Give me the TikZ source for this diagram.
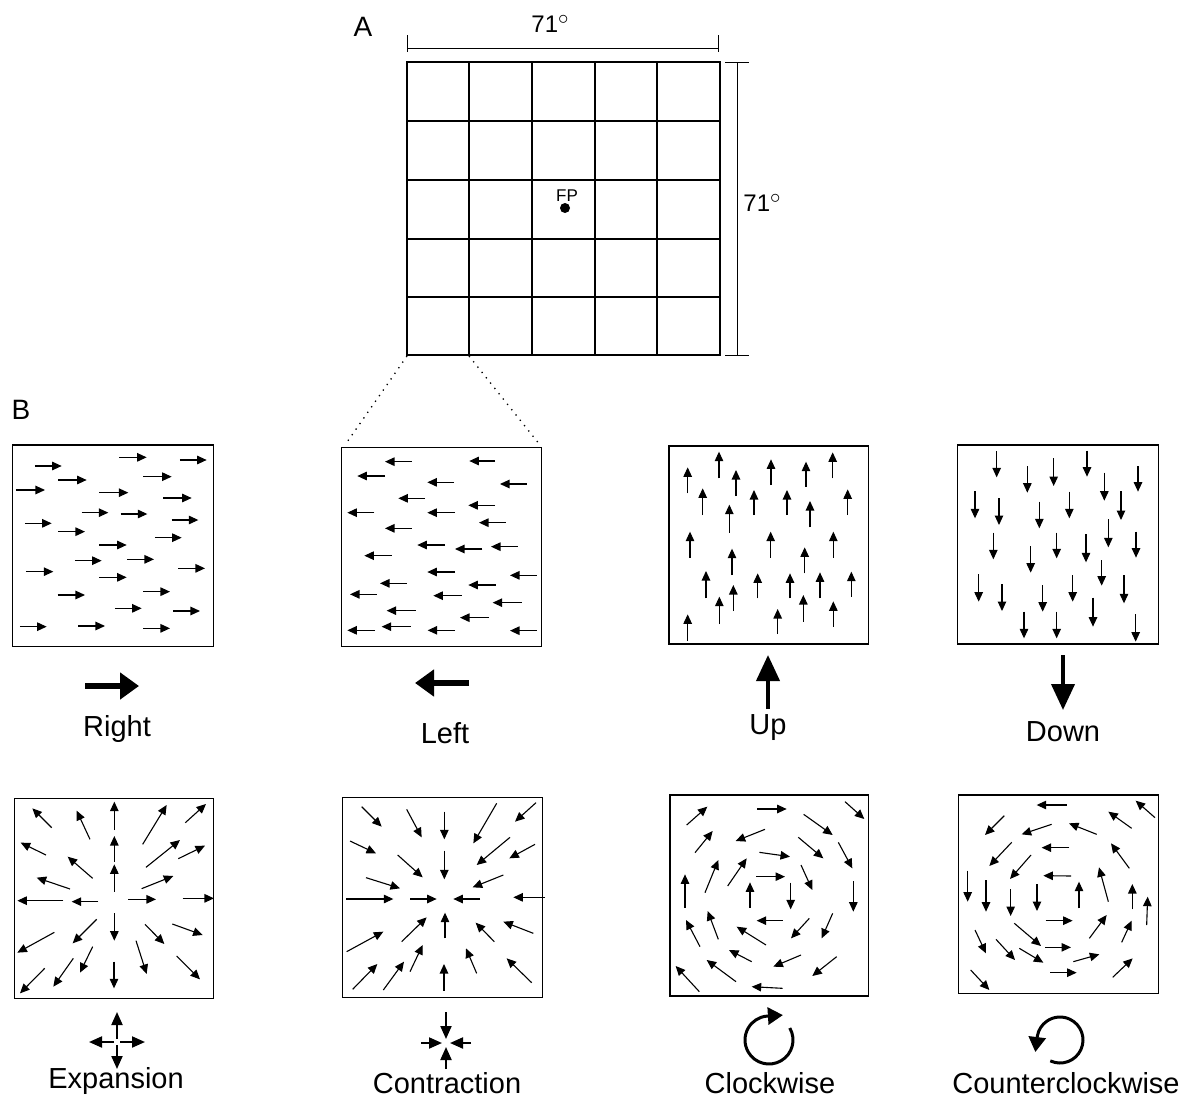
\documentclass[tikz,border=0pt]{standalone}
\usepackage{fontspec}
\setmainfont{Liberation Sans}
\usetikzlibrary{arrows.meta,calc}
\begin{document}
\begin{tikzpicture}[x=1pt,y=-1pt]
\tikzset{
  fa/.style={line width=1.1pt,-{Triangle[length=9.5pt,width=8.5pt]}},
  panelbox/.style={draw,line width=1.3pt},
  bigarr/.style={line width=5.5pt,-{Triangle[length=19pt,width=26pt]}},
  vertarr/.style={line width=4pt,-{Triangle[length=26pt,width=23pt]}},
  smallarr/.style={line width=2pt,-{Triangle[length=13pt,width=11pt]}},
  rotarr/.style={line width=3pt,-{Triangle[length=15pt,width=17pt]}},
  lab/.style={font=\fontsize{29}{32}\selectfont,inner sep=0pt},
  dimlab/.style={font=\fontsize{24}{26}\selectfont,inner sep=0pt},
}
\newcommand\degsign{\raisebox{8pt}{\fontsize{20}{20}\selectfont$\circ$}}
\useasboundingbox (0,0) rectangle (1189,1100);
\fill[white] (0,0) rectangle (1189,1100);

% ---------- Part A ----------
\node[lab,font=\fontsize{28}{30}\selectfont] (labA) at (363,27) {A};
\foreach \x in {407,469,532,595,657,720}
  \draw[line width=2.9pt] (\x,62) -- (\x,355);
\foreach \y in {62,121,180,239,297,355}
  \draw[line width=2.9pt] (406,\y) -- (721,\y);
% dimension lines
\draw[line width=1pt] (407,48) -- (718,48);
\draw[line width=1pt] (407,35) -- (407,52);
\draw[line width=1pt] (718,35) -- (718,52);
\node[dimlab] (topdim) at (550,24) {71\degsign};
\draw[line width=1pt] (737,62) -- (737,355);
\draw[line width=1pt] (725,62) -- (749,62);
\draw[line width=1pt] (725,355) -- (749,355);
\node[dimlab] (rightdim) at (762,203) {71\degsign};
% fixation point
\fill (565,208) circle[radius=5];
\node[inner sep=0pt,font=\fontsize{17}{18}\selectfont] (fp) at (567,196) {FP};
% dotted zoom lines
\draw[line width=1.3pt,dash pattern=on 1.3pt off 5.5pt] (407,356) -- (345,445);
\draw[line width=1.3pt,dash pattern=on 1.3pt off 5.5pt] (469,356) -- (540,445);

% ---------- Part B ----------
\node[lab,font=\fontsize{28}{30}\selectfont] (labB) at (21,410) {B};

% Right panel
\begin{scope}[shift={(0,430)},scale=1/3]
\draw[panelbox] (38,45) rectangle (640,650);
\foreach \a/\b/\y in {105/185/108, 358/440/82, 540/620/90, 175/260/150, 430/515/140,
  48/135/180, 298/385/188, 490/575/204, 245/325/248, 362/442/252, 515/595/270,
  75/155/280, 175/255/305, 465/545/323, 298/380/345, 225/305/392, 382/462/388,
  535/615/415, 78/160/425, 298/380/442, 173/255/495, 430/510/485, 345/425/535,
  520/600/543, 60/140/590, 235/315/588, 430/510/595}
  \draw[fa] (\a,\y) -- (\b,\y);
\end{scope}

% Left panel
\begin{scope}[shift={(330,430)},scale=1/3]
\draw[panelbox] (35,52) rectangle (635,650);
\foreach \h/\t/\y in {165/245/95, 418/495/93, 82/165/138, 292/372/157, 510/590/162,
  205/285/205, 415/495/226, 52/133/248, 292/375/248, 447/527/278, 165/245/295,
  262/345/345, 375/457/357, 483/563/350, 103/185/377, 292/375/426, 540/620/436,
  150/230/460, 415/497/465, 60/140/493, 310/395/497, 488/575/518, 170/257/542,
  390/477/563, 52/135/601, 155/242/590, 293/375/601, 540/620/602}
  \draw[fa] (\t,\y) -- (\h,\y);
\end{scope}

% Up panel
\begin{scope}[shift={(655,430)},scale=1/3]
\draw[panelbox] (42,48) rectangle (640,642);
\foreach \x/\t/\h in {192/145/65, 98/190/112, 243/198/120, 348/165/88, 453/170/95,
  533/145/67, 143/255/175, 297/255/180, 396/255/180, 578/255/178, 223/308/224,
  465/292/213, 105/383/305, 347/383/305, 535/383/305, 231/435/356, 449/430/352,
  153/505/423, 308/505/430, 405/505/430, 495/505/427, 589/500/425, 235/543/465,
  193/582/500, 445/575/495, 535/590/514, 98/632/553, 368/612/537}
  \draw[fa] (\x,\t) -- (\x,\h);
\end{scope}

% Down panel
\begin{scope}[shift={(950,430)},scale=1/3]
\draw[panelbox] (22,45) rectangle (625,642);
\foreach \x/\t/\h in {140/63/142, 232/108/188, 311/85/168, 411/62/140, 463/128/212,
  564/108/185, 75/183/265, 147/205/285, 268/215/295, 358/185/265, 513/183/270,
  475/268/352, 130/308/388, 320/308/385, 408/313/397, 558/305/383, 242/348/428,
  455/390/467, 86/433/515, 156/462/543, 278/465/545, 368/435/515, 522/435/520,
  429/503/590, 222/545/625, 320/545/625, 557/552/635}
  \draw[fa] (\x,\t) -- (\x,\h);
\end{scope}

% Expansion panel
\begin{scope}[shift={(0,780)},scale=1/3]
\draw[panelbox] (44,55) rectangle (640,655);
\foreach \a/\b/\c/\d in {155/143/97/85, 270/178/230/92, 343/150/343/65, 428/193/500/75,
  556/128/618/72, 138/225/62/188, 278/295/203/230, 343/245/343/168, 438/262/540/180,
  535/236/615/197, 210/327/110/293, 343/335/343/253, 425/326/520/288, 190/362/52/362,
  295/365/215/365, 385/358/468/358, 548/355/642/355, 163/457/52/518, 290/418/218/490,
  343/400/343/482, 435/433/493/492, 517/432/608/465, 278/500/240/578, 220/535/160/620,
  134/565/60/640, 342/545/342/625, 408/482/440/582, 530/528/600/598}
  \draw[fa] (\a,\b) -- (\c,\d);
\end{scope}

% Contraction panel
\begin{scope}[shift={(330,780)},scale=1/3]
\draw[panelbox] (38,52) rectangle (638,652);
\foreach \a/\b/\c/\d in {95/80/155/140, 230/88/275/172, 343/95/343/178, 500/70/430/190,
  618/68/555/125, 60/183/138/220, 203/225/278/292, 343/212/343/298, 540/172/440/255,
  615/193/538/235, 108/293/210/325, 520/285/428/322, 48/357/190/357, 240/357/320/357,
  450/357/370/357, 645/352/550/352, 50/515/160/455, 215/485/290/412, 345/475/345/398,
  493/485/437/428, 610/460/520/425, 240/575/278/495, 160/630/222/545, 68/628/142/552,
  342/632/342/552, 440/580/408/505, 605/608/530/535}
  \draw[fa] (\a,\b) -- (\c,\d);
\end{scope}

% Clockwise panel
\begin{scope}[shift={(655,780)},scale=1/3]
\draw[panelbox] (45,45) rectangle (640,648);
\foreach \a/\b/\c/\d in {95/135/157/80, 307/87/395/87, 570/65/628/117, 446/103/533/165,
  330/148/242/183, 120/218/173/153, 430/172/505/235, 313/217/405/230, 550/187/592/265,
  150/338/190/240, 218/318/275/235, 303/290/390/290, 438/255/472/330, 90/383/90/283,
  285/383/285/307, 407/308/407/388, 595/303/595/395, 383/422/305/422, 190/478/158/393,
  135/500/93/420, 463/415/408/475, 533/400/500/475, 333/495/245/440, 290/545/222/510,
  438/525/355/560, 243/605/155/540, 545/530/472/588, 133/635/62/558, 383/625/290/620}
  \draw[fa] (\a,\b) -- (\c,\d);
\end{scope}

% Counterclockwise panel
\begin{scope}[shift={(950,780)},scale=1/3]
\draw[panelbox] (25,45) rectangle (625,640);
\foreach \a/\b/\c/\d in {350/75/260/75, 615/113/557/62, 163/107/105/165, 305/133/215/163,
  440/163/357/130, 545/145/475/95, 185/187/118/258, 358/203/275/203, 538/265/483/190,
  243/225/180/297, 363/288/280/287, 53/272/53/365, 108/300/108/395, 182/327/182/408,
  261/312/261/393, 387/385/387/305, 475/365/447/262, 547/388/547/312, 590/435/593/350,
  287/422/368/422, 418/475/470/405, 515/487/545/422, 193/430/273/498, 75/450/108/520,
  138/478/195/540, 208/505/280/548, 285/502/363/502, 370/545/448/523, 488/592/548/535,
  300/578/380/578, 62/570/118/630}
  \draw[fa] (\a,\b) -- (\c,\d);
\end{scope}

% ---------- direction icons, row 1 ----------
\coordinate (r0) at (85,686);  \coordinate (r1) at (139,686);
\draw[bigarr] (r0) -- (r1);
\node[lab] (tRight) at (117,729) {Right};
\coordinate (l0) at (469,683); \coordinate (l1) at (415,683);
\draw[bigarr] (l0) -- (l1);
\node[lab] (tLeft) at (445,733) {Left};
\coordinate (u0) at (768,709); \coordinate (u1) at (768,655);
\draw[vertarr] (u0) -- (u1);
\node[lab] (tUp) at (768,728) {Up};
\coordinate (d0) at (1063,655); \coordinate (d1) at (1063,710);
\draw[vertarr] (d0) -- (d1);
\node[lab] (tDown) at (1063,732) {Down};

% ---------- row 2 icons ----------
\coordinate (ec) at (117,1042);
\draw[smallarr] (117,1039) -- (117,1012);
\draw[smallarr] (117,1045) -- (117,1069);
\draw[smallarr] (114,1042) -- (89,1042);
\draw[smallarr] (120,1042) -- (145,1042);
\node[lab] (tExp) at (116,1081) {Expansion};

\coordinate (cc) at (446,1043);
\draw[smallarr] (446,1012) -- (446,1039);
\draw[smallarr] (446,1069) -- (446,1047);
\draw[smallarr] (421,1043) -- (442,1043);
\draw[smallarr] (471,1043) -- (450,1043);
\node[lab] (tCon) at (447,1083) {Contraction};

\coordinate (cw) at (769,1040);
\draw[rotarr] ([shift={(-30:24)}]cw) arc[start angle=-30,end angle=265,radius=24] -- ++(16,-1);
\node[lab] (tCw) at (770,1083) {Clockwise};

\coordinate (ccw) at (1060,1040);
\draw[rotarr] ([shift={(115:23)}]ccw) arc[start angle=115,end angle=-170,radius=23] -- ++(-2,16);
\node[lab] (tCcw) at (1066,1083) {Counterclockwise};
\end{tikzpicture}
\end{document}
